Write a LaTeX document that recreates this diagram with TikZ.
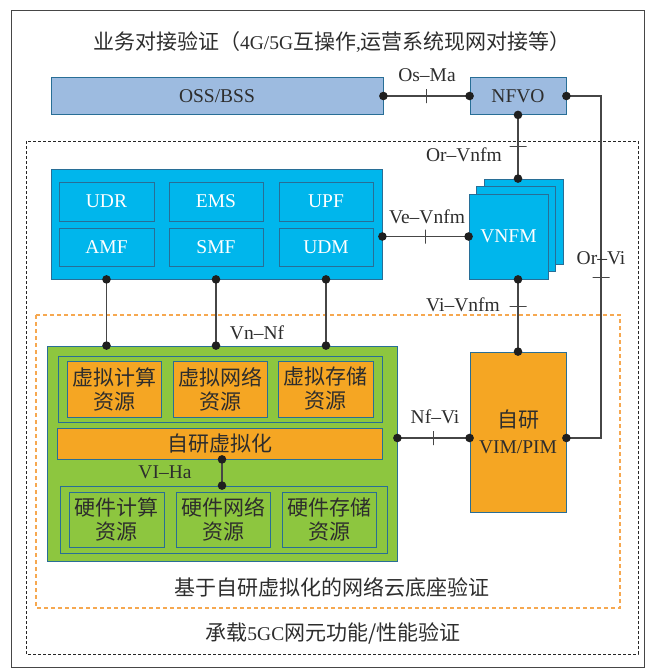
\documentclass[tikz,border=0pt]{standalone}
\usepackage{fontspec}
\setmainfont{Liberation Serif}
\newfontfamily\cjk{Noto Sans CJK SC}
\usetikzlibrary{calc}
\definecolor{lblue}{RGB}{157,187,224}
\definecolor{cyanb}{RGB}{0,182,236}
\definecolor{grn}{RGB}{141,198,63}
\definecolor{org}{RGB}{245,166,35}
\definecolor{edgeb}{RGB}{40,110,150}
\definecolor{lin}{RGB}{70,70,70}
\definecolor{txt}{RGB}{45,45,45}
\definecolor{odash}{RGB}{246,168,80}
\newcommand\zhf{\cjk\fontsize{21}{24}\selectfont}
\newcommand\latf{\rmfamily\fontsize{19.5}{22}\selectfont}
\begin{document}
\begin{tikzpicture}[x=1pt,y=-1pt,
  wh/.style 2 args={minimum width=#1pt, minimum height=#2pt, inner sep=0pt},
  boxblue/.style={draw=edgeb, line width=0.8pt, fill=lblue, text=txt},
  boxcyan/.style={draw=edgeb, line width=0.8pt, fill=cyanb, text=white},
  boxgreen/.style={draw=edgeb, line width=0.8pt, fill=grn, text=txt},
  boxorange/.style={draw=edgeb, line width=0.8pt, fill=org, text=txt},
  conn/.style={draw=lin, line width=1.1pt},
  tickv/.style={draw=lin, line width=1pt, shape=rectangle, inner sep=0pt, minimum width=0pt, minimum height=14pt},
  tickh/.style={draw=lin, line width=1pt, shape=rectangle, inner sep=0pt, minimum height=0pt, minimum width=17pt},
  lbl/.style={text=txt, inner sep=0pt},
  dotc/.style={fill=black!88},
  zhbox/.style={align=center, font=\zhf}
]
\useasboundingbox (0,0) rectangle (656,669);
% outer frame and dashed frames
\draw[lin, line width=0.9pt] (11,10) rectangle (644,667);
\draw[black!85, line width=0.8pt, dash pattern=on 3pt off 2pt] (26,141) rectangle (638,654);
\draw[odash, line width=1.2pt, dash pattern=on 4pt off 3pt] (36,315) rectangle (620,608);

% texts of frames
\node[lbl] (title) at (332,42) {\zhf 业务对接验证（{\latf 4G/5G}互操作{\latf ,}运营系统现网对接等）};
\node[lbl] (cloudt) at (332,587) {\zhf 基于自研虚拟化的网络云底座验证};
\node[lbl] (coret) at (333,633) {\zhf 承载{\latf 5GC}网元功能/性能验证};

% top boxes
\node[boxblue, wh={332}{37}] (oss) at (217,96) {\latf OSS/BSS};
\node[boxblue, wh={96}{37}] (nfvo) at (518,96) {\latf NFVO};

% 5GC core
\node[boxcyan, wh={331}{110}] (core) at (216.5,224) {};
\node[boxcyan, wh={95}{39}] (udr) at (106.5,201.5) {\latf UDR};
\node[boxcyan, wh={94}{39}] (ems) at (216,201.5) {\latf EMS};
\node[boxcyan, wh={94}{39}] (upf) at (326,201.5) {\latf UPF};
\node[boxcyan, wh={95}{38}] (amf) at (106.5,247) {\latf AMF};
\node[boxcyan, wh={94}{38}] (smf) at (216,247) {\latf SMF};
\node[boxcyan, wh={94}{38}] (udm) at (326,247) {\latf UDM};

% VNFM stack
\node[boxcyan, wh={79}{85}] (vnfm3) at (523.5,221.5) {};
\node[boxcyan, wh={79}{85}] (vnfm2) at (516,229) {};
\node[boxcyan, wh={79}{85}] (vnfm) at (508.5,236.5) {\latf VNFM};

% green NFVI
\node[boxgreen, wh={350}{215}] (green) at (222,453.5) {};
\node[boxgreen, wh={324}{66}] (vframe) at (220,389) {};
\node[boxorange, wh={94}{56}, zhbox] (vc) at (114,389) {虚拟计算\\资源};
\node[boxorange, wh={94}{56}, zhbox] (vn) at (220,389) {虚拟网络\\资源};
\node[boxorange, wh={95}{56}, zhbox] (vs) at (325.5,389) {虚拟存储\\资源};
\node[boxorange, wh={325}{31}] (zy) at (219.5,443.5) {\zhf 自研虚拟化};
\node[boxgreen, wh={327}{67}] (hframe) at (223.5,519.5) {};
\node[boxgreen, wh={95}{55}, zhbox] (hc) at (116.5,519.5) {硬件计算\\资源};
\node[boxgreen, wh={94}{55}, zhbox] (hn) at (223,519.5) {硬件网络\\资源};
\node[boxgreen, wh={94}{55}, zhbox] (hs) at (329,519.5) {硬件存储\\资源};

% VIM
\node[boxorange, wh={96}{160}, zhbox] (vim) at (518,432) {自研\\[2pt]{\latf VIM/PIM}};

% helper coordinates
\coordinate (nfy) at (0,438);
\coordinate (orvi) at (601,96);
\coordinate (viha) at (222,0);

% connectors
\draw[conn] (oss.east) -- node[tickv]{} (nfvo.west);
\fill[dotc] (oss.east) circle[radius=4.3pt] (nfvo.west) circle[radius=4.3pt];

\draw[conn] (nfvo.south) -- node[tickh, pos=0.5]{} (nfvo.south |- vnfm3.north);
\fill[dotc] (nfvo.south) circle[radius=4.3pt] (nfvo.south |- vnfm3.north) circle[radius=4.3pt];

\draw[conn] (core.east |- vnfm.west) -- node[tickv]{} (vnfm.west);
\fill[dotc] (core.east |- vnfm.west) circle[radius=4.3pt] (vnfm.west) circle[radius=4.3pt];

\draw[conn] (vnfm.south -| nfvo.south) -- node[tickh, pos=0.37]{} (vim.north);
\fill[dotc] (vnfm.south -| nfvo.south) circle[radius=4.3pt] (vim.north) circle[radius=4.3pt];

\draw[conn] (nfvo.east) -- (orvi) -- node[tickh, pos=0.53]{} (orvi |- nfy) -- (vim.east |- nfy);
\fill[dotc] (nfvo.east) circle[radius=4.3pt] (vim.east |- nfy) circle[radius=4.3pt];

\draw[conn] (green.east |- nfy) -- node[tickv]{} (vim.west |- nfy);
\fill[dotc] (green.east |- nfy) circle[radius=4.3pt] (vim.west |- nfy) circle[radius=4.3pt];

\foreach \b in {udr,ems,upf}{
  \draw[conn] (\b.south |- core.south) -- (\b.south |- green.north);
  \fill[dotc] (\b.south |- core.south) circle[radius=4.3pt] (\b.south |- green.north) circle[radius=4.3pt];
}

\draw[conn] (zy.south -| viha) -- (hframe.north -| viha);
\fill[dotc] (zy.south -| viha) circle[radius=4.3pt] (hframe.north -| viha) circle[radius=4.3pt];

% connector labels
\node[lbl] (lOsMa) at (427,75) {\latf Os--Ma};
\node[lbl] (lOrVnfm) at (464,155) {\latf Or--Vnfm};
\node[lbl] (lVeVnfm) at (427,217) {\latf Ve--Vnfm};
\node[lbl] (lOrVi) at (601,258) {\latf Or--Vi};
\node[lbl] (lViVnfm) at (463,305) {\latf Vi--Vnfm};
\node[lbl] (lVnNf) at (257,333) {\latf Vn--Nf};
\node[lbl] (lNfVi) at (435,417) {\latf Nf--Vi};
\node[lbl] (lVIHa) at (165,472) {\latf VI--Ha};
\end{tikzpicture}
\end{document}
